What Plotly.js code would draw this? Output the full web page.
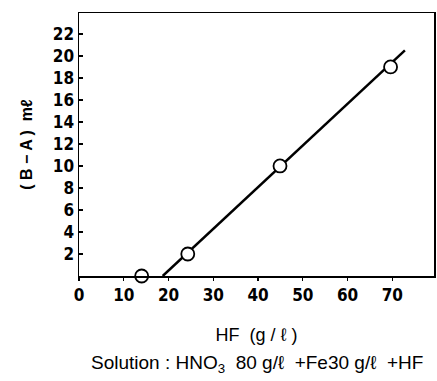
<!DOCTYPE html>
<html>
<head>
<meta charset="utf-8">
<script src="https://cdn.plot.ly/plotly-3.0.1.min.js"></script>
<style>html,body{margin:0;padding:0;background:#fff;}#chart{width:437px;height:381px;}</style>
</head>
<body>
<div id="chart"></div>
<script>
// Measured points
var hfValues = [14.0, 24.3, 44.9, 69.6];
var baValues = [0, 2.0, 10.0, 19.0];
// Fitted straight line (endpoints)
var lineX = [18.7, 72.8];
var lineY = [0, 20.5];
var xTickVals = [0, 10, 20, 30, 40, 50, 60, 70];
var xTickText = ["0", "10", "20", "30", "40", "50", "60", "70"];
var yTickVals = [2, 4, 6, 8, 10, 12, 14, 16, 18, 20, 22];
var yTickText = ["2", "4", "6", "8", "10", "12", "14", "16", "18", "20", "22"];

var tickFont = {family: "'DejaVu Sans Condensed', 'Liberation Sans Narrow', Arial, sans-serif", size: 17, color: "#000", weight: "bold"};
var data = [
  {x: lineX, y: lineY, mode: "lines", line: {color: "#000", width: 2.5}, hoverinfo: "skip", showlegend: false, cliponaxis: false},
  {x: hfValues, y: baValues, mode: "markers",
   marker: {symbol: "circle", size: 13, color: "#fff", line: {color: "#000", width: 1.8}},
   showlegend: false, cliponaxis: false}
];
var layout = {
  width: 437, height: 381,
  margin: {l: 79, r: 3, t: 13, b: 105},
  paper_bgcolor: "#fff", plot_bgcolor: "#fff",
  showlegend: false,
  xaxis: {
    range: [0, 79.3], tickvals: xTickVals, ticktext: xTickText,
    ticks: "outside", ticklen: 3, tickwidth: 1.2, tickcolor: "#000",
    showline: true, mirror: true, linecolor: "#000", linewidth: 1.5,
    showgrid: false, zeroline: false, tickfont: tickFont,
    title: {text: "HF  (g / ℓ )", font: {family: "'Liberation Sans', Arial, sans-serif", size: 18, color: "#000"}, standoff: 24}
  },
  yaxis: {
    range: [0, 23.9], tickvals: yTickVals, ticktext: yTickText,
    ticks: "inside", ticklen: 4, tickwidth: 1.2, tickcolor: "#000",
    showline: true, mirror: true, linecolor: "#000", linewidth: 1.5,
    showgrid: false, zeroline: false, tickfont: tickFont,
    title: {text: "( B − A )  mℓ", font: {family: "'Liberation Sans', Arial, sans-serif", size: 16, color: "#000", weight: "bold"}, standoff: 16}
  },
  annotations: [{
    xref: "paper", yref: "paper", x: 0.5, y: -0.335, yanchor: "middle", xanchor: "center",
    text: "Solution : HNO<sub>3</sub>  80 g/ℓ  +Fe30 g/ℓ  +HF", showarrow: false,
    font: {family: "'Liberation Sans', Arial, sans-serif", size: 19, color: "#000"}
  }]
};
Plotly.newPlot("chart", data, layout, {displayModeBar: false, staticPlot: true});
</script>
</body>
</html>
